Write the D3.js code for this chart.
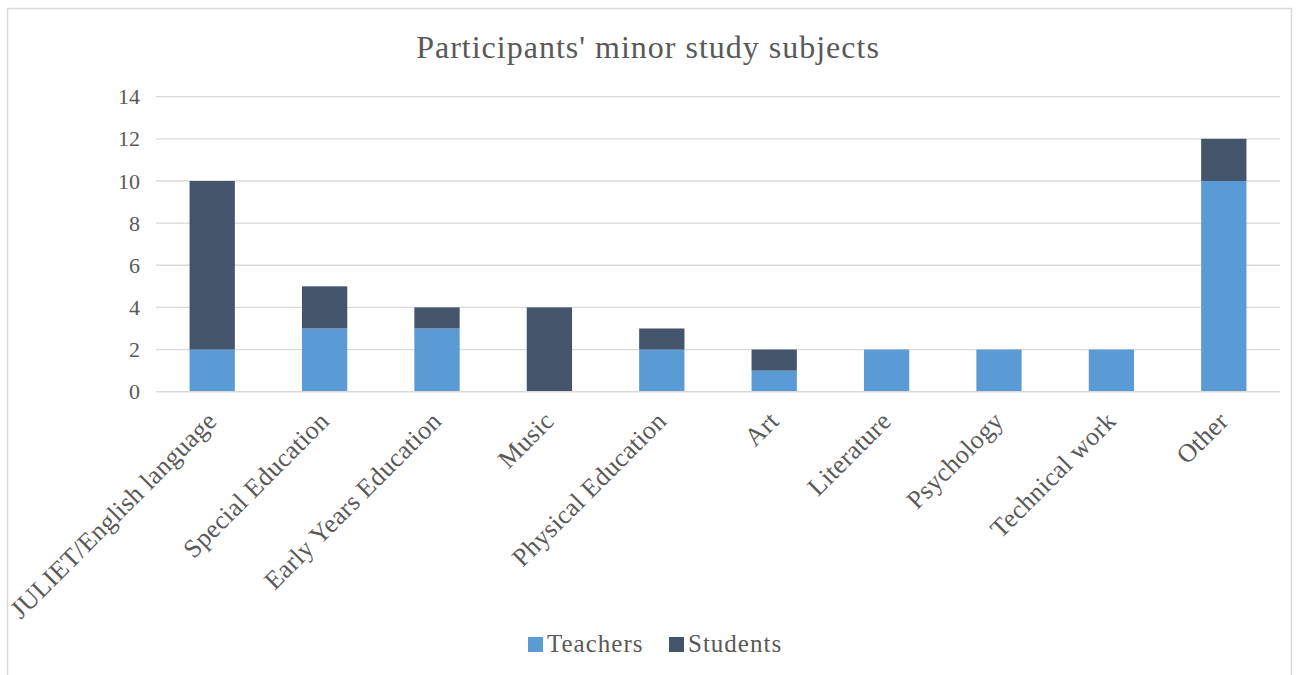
<!DOCTYPE html>
<html>
<head>
<meta charset="utf-8">
<script src="https://cdn.jsdelivr.net/npm/d3@7/dist/d3.min.js"></script>
<style>
  html, body { margin: 0; padding: 0; background: #fff; }
  svg { display: block; }
  text { font-family: "Liberation Serif", "Times New Roman", serif; fill: #595959; }
</style>
</head>
<body>
<svg id="chart" width="1299" height="675"></svg>
<script>
// Minor study subjects, split by participant group
const categories = ["JULIET/English language", "Special Education", "Early Years Education", "Music",
  "Physical Education", "Art", "Literature", "Psychology", "Technical work", "Other"];
const teachers = [2, 3, 3, 0, 2, 1, 2, 2, 2, 10];
const students = [8, 2, 1, 4, 1, 1, 0, 0, 0, 2];
const seriesNames = ["Teachers", "Students"];
const seriesColors = ["#5B9BD5", "#44546A"];
const yTicks = [0, 2, 4, 6, 8, 10, 12, 14];
const title = "Participants' minor study subjects";

const svg = d3.select("#chart");

// outer chart frame
svg.append("rect")
  .attr("x", 7.5).attr("y", 8.5).attr("width", 1284).attr("height", 680)
  .attr("fill", "#fff").attr("stroke", "#D9D9D9").attr("stroke-width", 1.5);

const plot = { left: 156, right: 1280, top: 96.7, bottom: 391.7 };

const x = d3.scaleBand().domain(categories).range([plot.left, plot.right]).paddingInner(0.597).paddingOuter(0.2985);
const y = d3.scaleLinear().domain([0, 14]).range([plot.bottom, plot.top]);

// gridlines
svg.append("g").selectAll("line").data(yTicks).join("line")
  .attr("x1", plot.left).attr("x2", plot.right)
  .attr("y1", d => y(d)).attr("y2", d => y(d))
  .attr("stroke", "#D9D9D9").attr("stroke-width", 1.3);

// y axis labels
const yAxis = d3.axisLeft(y).tickValues(yTicks).tickSize(0).tickPadding(16);
const yg = svg.append("g").attr("transform", `translate(${plot.left},0)`).call(yAxis);
yg.select(".domain").remove();
yg.selectAll("text").attr("font-size", 22).attr("fill", "#595959")
  .style("font-family", "'Liberation Serif', serif");

// stacked bars
const rows = categories.map((c, i) => ({ category: c, Teachers: teachers[i], Students: students[i] }));
const stacked = d3.stack().keys(seriesNames)(rows);
svg.append("g").selectAll("g").data(stacked).join("g")
  .attr("fill", (d, i) => seriesColors[i])
  .selectAll("rect").data(d => d).join("rect")
  .attr("x", d => x(d.data.category))
  .attr("width", x.bandwidth())
  .attr("y", d => y(d[1]))
  .attr("height", d => y(d[0]) - y(d[1]));

// baseline
svg.append("line").attr("x1", plot.left).attr("x2", plot.right)
  .attr("y1", y(0)).attr("y2", y(0)).attr("stroke", "#D9D9D9").attr("stroke-width", 1.3);

// category labels, rotated
const xAxis = d3.axisBottom(x).tickSize(0).tickPadding(0);
const xg = svg.append("g").attr("transform", `translate(0,${plot.bottom})`).call(xAxis);
xg.select(".domain").remove();
xg.selectAll("text")
  .attr("font-size", 26).attr("fill", "#595959")
  .attr("letter-spacing", 0.3)
  .style("font-family", "'Liberation Serif', serif")
  .attr("text-anchor", "end")
  .attr("dy", null)
  .attr("y", 0)
  .attr("transform", "translate(6,31) rotate(-45)");

// title
svg.append("text").attr("x", 648).attr("y", 58).attr("text-anchor", "middle")
  .attr("font-size", 32).attr("letter-spacing", 1).text(title);

// legend
const legend = svg.append("g").attr("transform", "translate(528,652)");
const legendX = [0, 141];
seriesNames.forEach((name, i) => {
  const g = legend.append("g").attr("transform", `translate(${legendX[i]},0)`);
  g.append("rect").attr("x", 0).attr("y", -15).attr("width", 15).attr("height", 15).attr("fill", seriesColors[i]);
  g.append("text").attr("x", 19).attr("y", 0).attr("font-size", 25).attr("letter-spacing", 1.0).text(name);
});
</script>
</body>
</html>
